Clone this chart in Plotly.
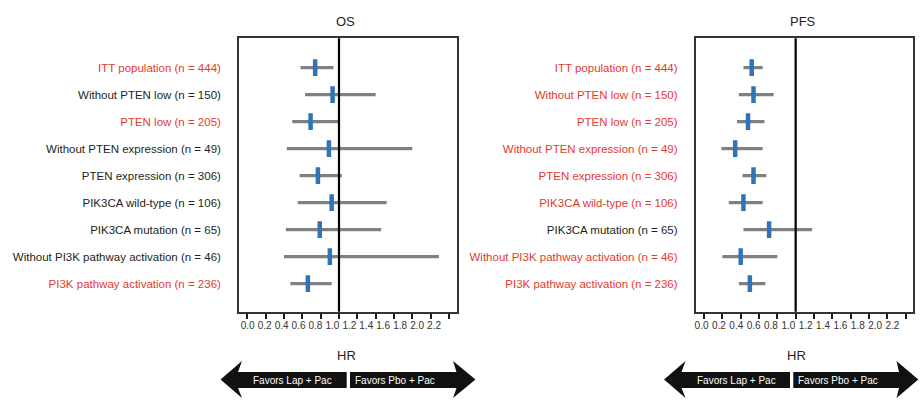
import plotly.graph_objects as go

# ---------------- data ----------------
subgroups_os = [
    "ITT population (n = 444)",
    "Without PTEN low (n = 150)",
    "PTEN low (n = 205)",
    "Without PTEN expression (n = 49)",
    "PTEN expression (n = 306)",
    "PIK3CA wild-type (n = 106)",
    "PIK3CA mutation (n = 65)",
    "Without PI3K pathway activation (n = 46)",
    "PI3K pathway activation (n = 236)",
]
subgroups_pfs = list(subgroups_os)

os_highlight = [True, False, True, False, False, False, False, False, True]
pfs_highlight = [True, True, True, True, True, True, False, True, True]

os_hr = [0.74, 0.93, 0.69, 0.89, 0.77, 0.92, 0.79, 0.90, 0.66]
os_lo = [0.58, 0.63, 0.49, 0.43, 0.57, 0.55, 0.42, 0.40, 0.47]
os_hi = [0.94, 1.40, 0.99, 1.80, 1.03, 1.52, 1.46, 2.09, 0.92]

pfs_hr = [0.52, 0.54, 0.48, 0.34, 0.54, 0.43, 0.71, 0.40, 0.50]
pfs_lo = [0.43, 0.38, 0.36, 0.19, 0.42, 0.27, 0.43, 0.20, 0.38]
pfs_hi = [0.64, 0.76, 0.66, 0.64, 0.68, 0.64, 1.18, 0.80, 0.67]

ref_value = 1.0
x_tick_vals = [0.0, 0.2, 0.4, 0.6, 0.8, 1.0, 1.2, 1.4, 1.6, 1.8, 2.0, 2.2]
x_tick_text = ["0.0", "0.2", "0.4", "0.6", "0.8", "1.0", "1.2", "1.4", "1.6", "1.8", "2.0", "2.2"]

panel_titles = ["OS", "PFS"]
axis_title = "HR"
arrow_left_text = "Favors Lap + Pac"
arrow_right_text = "Favors Pbo + Pac"

# ---------------- style ----------------
W, H = 921, 400
RED = "#e5392e"
BLACK = "#231f20"
BLUE = "#2f74b8"
GRAY = "#808080"
FONT = "Liberation Sans, Arial, sans-serif"

X_RANGE = [-0.091, 2.284]
Y_RANGE = [9.04, -1.09]


def px(x):
    return x / W


def py(y):
    return 1 - y / H


def colored(labels, flags):
    return [f"<span style='color:{RED if f else BLACK}'>{t}</span>" for t, f in zip(labels, flags)]


fig = go.Figure()

panels = [
    dict(xa="x", ya="y", xo="x3", hr=os_hr, lo=os_lo, hi=os_hi, labels=subgroups_os,
         flags=os_highlight, dom=[px(239), px(456.7)], lab=(0.004, 0.924)),
    dict(xa="x2", ya="y2", xo="x4", hr=pfs_hr, lo=pfs_lo, hi=pfs_hi, labels=subgroups_pfs,
         flags=pfs_highlight, dom=[px(695.7), px(913.3)], lab=(-0.027, 0.947)),
]
ydom = [py(311.7), py(38.3)]

for i, p in enumerate(panels):
    rows = list(range(len(p["hr"])))
    fig.add_trace(go.Scatter(
        x=p["hr"], y=rows, xaxis=p["xa"], yaxis=p["ya"], mode="markers",
        error_x=dict(type="data", symmetric=False,
                     array=[h - m for h, m in zip(p["hi"], p["hr"])],
                     arrayminus=[m - l for m, l in zip(p["hr"], p["lo"])],
                     width=0, thickness=3.2, color=GRAY),
        marker=dict(symbol="line-ns", size=12, color=BLUE, line=dict(color=BLUE, width=4.5)),
        showlegend=False, hoverinfo="skip",
    ))
    # invisible trace to host the label axis
    fig.add_trace(go.Scatter(x=[None], y=[None], xaxis=p["xo"], yaxis=p["ya"],
                             showlegend=False, hoverinfo="skip"))

    n = "" if i == 0 else "2"
    no = "3" if i == 0 else "4"
    a, b = p["lab"]
    fig.update_layout(**{
        f"xaxis{n}": dict(domain=p["dom"], range=X_RANGE, anchor=p["ya"],
                          tickvals=x_tick_vals, showticklabels=False,
                          ticks="outside", ticklen=5, tickwidth=1.6, tickcolor="#1a1a1a",
                          showline=True, linecolor="#333333", linewidth=1.6, mirror=True,
                          showgrid=False, zeroline=False, fixedrange=True),
        f"xaxis{no}": dict(overlaying=p["xa"], anchor=p["ya"], side="bottom",
                           range=[(X_RANGE[0] - a) / b, (X_RANGE[1] - a) / b],
                           tickvals=x_tick_vals, ticktext=x_tick_text, ticks="",
                           ticklabelstandoff=6,
                           tickfont=dict(family=FONT, size=10, color="#333333"),
                           showline=False, showgrid=False, zeroline=False),
        f"yaxis{n}": dict(domain=ydom, range=Y_RANGE, anchor=p["xa"],
                          tickvals=rows, ticktext=colored(p["labels"], p["flags"]),
                          ticks="", ticklabelstandoff=14,
                          tickfont=dict(family=FONT, size=11.5, color=BLACK),
                          showline=True, linecolor="#333333", linewidth=1.6, mirror=True,
                          showgrid=False, zeroline=False, fixedrange=True),
    })

    # reference line at HR = 1
    fig.add_shape(type="line", xref=p["xa"], yref=f"{p['ya']} domain",
                  x0=ref_value, x1=ref_value, y0=0, y1=1,
                  line=dict(color="black", width=2.2))

# titles
for t, xc in zip(panel_titles, [345, 802.7]):
    fig.add_annotation(text=t, x=px(xc), y=py(21.7), xref="paper", yref="paper",
                       showarrow=False, xanchor="center", yanchor="middle",
                       font=dict(family=FONT, size=13, color=BLACK))

# arrows
arrows = [
    dict(tl=220.5, bl=242, nl=238, gl=346.7, gr=350, nr=456.5, br=453, tr=475.5,
         hr=346.7, tx=(292, 394.7)),
    dict(tl=664, bl=685.5, nl=681.5, gl=790, gr=793.3, nr=899, br=896.5, tr=918.3,
         hr=796.7, tx=(736.3, 838.3)),
]
yc, ys0, ys1, yh0, yh1 = 379.5, 372, 388, 361, 398
for a in arrows:
    left = (f"M{px(a['tl'])},{py(yc)} L{px(a['bl'])},{py(yh0)} L{px(a['nl'])},{py(ys0)} "
            f"L{px(a['gl'])},{py(ys0)} L{px(a['gl'])},{py(ys1)} L{px(a['nl'])},{py(ys1)} "
            f"L{px(a['bl'])},{py(yh1)} Z")
    right = (f"M{px(a['tr'])},{py(yc)} L{px(a['br'])},{py(yh0)} L{px(a['nr'])},{py(ys0)} "
             f"L{px(a['gr'])},{py(ys0)} L{px(a['gr'])},{py(ys1)} L{px(a['nr'])},{py(ys1)} "
             f"L{px(a['br'])},{py(yh1)} Z")
    for path in (left, right):
        fig.add_shape(type="path", path=path, xref="paper", yref="paper",
                      fillcolor="#111111", line=dict(width=0), layer="above")
    fig.add_annotation(text=axis_title, x=px(a["hr"]), y=py(355), xref="paper", yref="paper",
                       showarrow=False, xanchor="center", yanchor="middle",
                       font=dict(family=FONT, size=13, color=BLACK))
    for t, xc in zip([arrow_left_text, arrow_right_text], a["tx"]):
        fig.add_annotation(text=t, x=px(xc), y=py(380), xref="paper", yref="paper",
                           showarrow=False, xanchor="center", yanchor="middle",
                           font=dict(family=FONT, size=10, color="white"))

fig.update_layout(width=W, height=H, margin=dict(l=0, r=0, t=0, b=0),
                  paper_bgcolor="white", plot_bgcolor="white",
                  font=dict(family=FONT, color=BLACK))

fig.write_html("out.html", config={"displayModeBar": False},
               post_script="document.body.style.margin='0';")
